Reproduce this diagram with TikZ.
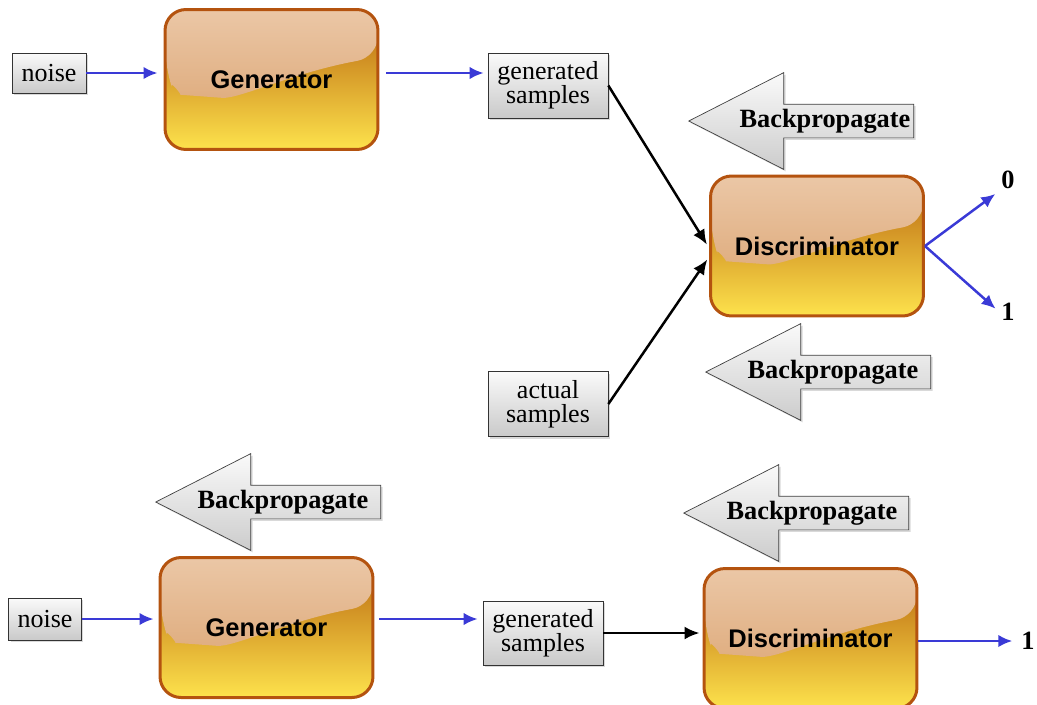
\documentclass[tikz,border=0pt]{standalone}
\usepackage{fontspec}
\setmainfont{Liberation Serif}
\setsansfont{Liberation Sans}
\usetikzlibrary{arrows.meta,shapes.arrows,shadows,calc}
\definecolor{rim}{HTML}{B4530F}
\definecolor{glosstop}{HTML}{EBC7A6}
\definecolor{glossbot}{HTML}{D9A06C}
\definecolor{ambertop}{HTML}{B8640E}
\definecolor{ambermid}{HTML}{CA7C1C}
\definecolor{amberbot}{HTML}{FDE24C}
\definecolor{flowblue}{HTML}{3A3AD6}

\begin{document}
\begin{tikzpicture}[x=0.02cm,y=-0.02cm,
            net/.style={draw=rim, line width=0.06cm, rounded corners=0.42cm,
                minimum width=4.26cm, minimum height=2.8cm,
                top color=ambertop, middle color=ambermid, bottom color=amberbot,
                font=\sffamily\bfseries\fontsize{14.5}{17}\selectfont,
                path picture={\shade[top color=glosstop, bottom color=glossbot]
                    let \p1=(path picture bounding box.north west),
                        \p2=(path picture bounding box.south east) in
                    (\p1) -- (\x2,\y1) -- (\x2,{0.66*\y1+0.34*\y2})
                    .. controls ({0.4*\x1+0.6*\x2},{0.55*\y1+0.45*\y2})
                    and ({0.65*\x1+0.35*\x2},{0.36*\y1+0.64*\y2})
                    .. ({0.83*\x1+0.17*\x2},{0.38*\y1+0.62*\y2})
                    .. controls ({0.92*\x1+0.08*\x2},{0.39*\y1+0.61*\y2})
                    and ({0.98*\x1+0.02*\x2},{0.5*\y1+0.5*\y2})
                    .. (\x1,{0.59*\y1+0.41*\y2}) -- cycle;}},
            sample/.style={draw=gray!40!black, top color=gray!4, bottom color=gray!42,
                drop shadow={shadow xshift=0.04cm, shadow yshift=-0.04cm, opacity=0.3},
                align=center, inner sep=0pt, font=\fontsize{14.8}{13.5}\selectfont},
            back/.style={single arrow, shape border rotate=180, anchor=tip,
                draw=gray!50!black, top color=gray!4, bottom color=gray!40,
                drop shadow={shadow xshift=0.04cm, shadow yshift=-0.04cm, opacity=0.3},
                inner xsep=0pt, inner ysep=0.33cm, minimum height=4.5cm,
                single arrow head extend=0.63cm, single arrow tip angle=54},
            backtext/.style={font=\bfseries\fontsize{15}{17}\selectfont},
            result/.style={inner sep=1pt, font=\bfseries\fontsize{15}{17}\selectfont},
            flow/.style={flowblue, line width=0.05cm, -{Latex[length=0.28cm,width=0.25cm]}},
            feed/.style={black, line width=0.05cm, -{Latex[length=0.3cm,width=0.26cm]}}]
            \useasboundingbox (0,0) rectangle (1037,704);

            \node[sample, minimum width=1.48cm, minimum height=0.8cm] (noiseA) at (49,73) {noise};
            \node[net] (genA) at (271.5,79.5) {Generator};
            \node[sample, minimum width=2.4cm, minimum height=1.3cm] (gsA) at (548,85.5) {generated\\samples};
            \node[sample, minimum width=2.4cm, minimum height=1.3cm] (asA) at (548,404) {actual\\samples};
            \node[net] (discA) at (817,246) {Discriminator};
            \node[result] (zeroA) at (1008,180) {0};
            \node[result] (oneA) at (1008,312) {1};
            \node[back] (bpA) at (688,121) {};
            \node[backtext] (bptA) at ([xshift=2.74cm]bpA.tip) {Backpropagate};
            \node[back] (bpB) at (705,372) {};
            \node[backtext] (bptB) at ([xshift=2.56cm]bpB.tip) {Backpropagate};

            \draw[flow, shorten >=0.12cm] (noiseA.east) -- (noiseA.east -| genA.west);
            \draw[flow, shorten <=0.14cm, shorten >=0.08cm] (genA.east |- noiseA) -- (gsA.west |- noiseA);
            \draw[feed, shorten >=0.08cm] (gsA.east) -- ([yshift=-0.04cm]discA.west);
            \draw[feed, shorten >=0.06cm] (asA.east) -- ([yshift=-0.22cm]discA.west);
            \draw[flow, shorten >=0.1cm] (discA.east) -- (zeroA.south west);
            \draw[flow, shorten >=0.1cm] (discA.east) -- (oneA.west);

            \node[sample, minimum width=1.46cm, minimum height=0.84cm] (noiseB) at (45,619) {noise};
            \node[net] (genB) at (266.5,627.5) {Generator};
            \node[sample, minimum width=2.4cm, minimum height=1.28cm] (gsB) at (543,633) {generated\\samples};
            \node[net] (discB) at (810.5,638.5) {Discriminator};
            \node[result] (oneB) at (1028,641) {1};
            \node[back] (bpC) at (155,502) {};
            \node[backtext] (bptC) at ([xshift=2.56cm]bpC.tip) {Backpropagate};
            \node[back] (bpD) at (683,513) {};
            \node[backtext] (bptD) at ([xshift=2.58cm]bpD.tip) {Backpropagate};

            \draw[flow, shorten >=0.1cm] (noiseB.east) -- (noiseB.east -| genB.west);
            \draw[flow, shorten <=0.1cm, shorten >=0.1cm] (genB.east |- noiseB) -- (gsB.west |- noiseB);
            \draw[feed, shorten >=0.06cm] (gsB.east) -- (gsB.east -| discB.west);
            \draw[flow, shorten >=0.14cm] (discB.east |- oneB) -- (oneB.west);
        \end{tikzpicture}
\end{document}
